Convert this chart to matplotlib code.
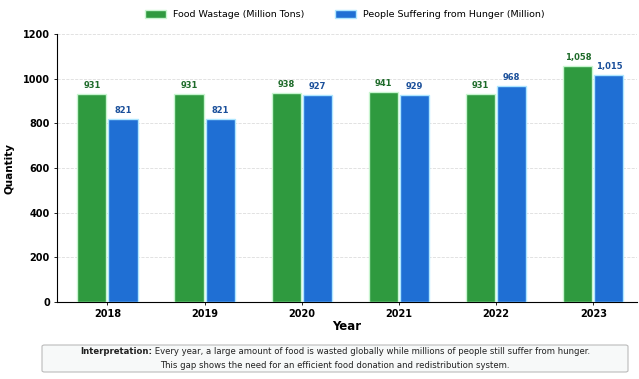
import numpy as np
import matplotlib
matplotlib.use("Agg")
import matplotlib.pyplot as plt
from matplotlib.patches import FancyBboxPatch

# Data
years = ["2018", "2019", "2020", "2021", "2022", "2023"]
food_waste = [931, 931, 938, 941, 931, 1058]
hunger = [821, 821, 927, 929, 968, 1015]
yticks = [0, 200, 400, 600, 800, 1000, 1200]

green = "#2f9a3f"
blue = "#1f6fd4"

fig = plt.figure(figsize=(6.39, 3.79), dpi=100)
ax = fig.add_axes([0.089, 0.203, 0.908, 0.707])

x = np.arange(len(years))
w = 0.3
off = 0.16
b1 = ax.bar(x - off, food_waste, w, color=green, edgecolor="#c8f5d0", linewidth=1.0,
            label="Food Wastage (Million Tons)", zorder=3)
b2 = ax.bar(x + off, hunger, w, color=blue, edgecolor="#aee6ff", linewidth=1.0,
            label="People Suffering from Hunger (Million)", zorder=3)

# value labels above bars
for rect, v in zip(b1, food_waste):
    ax.text(rect.get_x() + rect.get_width() / 2, v + 18, f"{v:,}", ha="center", va="bottom",
            fontsize=6, color="#1e6b2a", fontweight="bold")
for rect, v in zip(b2, hunger):
    ax.text(rect.get_x() + rect.get_width() / 2, v + 18, f"{v:,}", ha="center", va="bottom",
            fontsize=6, color="#1a4f9a", fontweight="bold")

ax.set_xlim(-0.52, 5.45)
ax.set_ylim(0, 1200)
ax.set_xticks(x)
ax.set_xticklabels(years, fontsize=7, fontweight="bold")
ax.set_yticks(yticks)
ax.set_yticklabels([str(t) for t in yticks], fontsize=7, fontweight="bold")
ax.tick_params(axis="both", length=2, width=0.6, pad=3)
ax.set_xlabel("Year", fontsize=8.5, fontweight="bold", labelpad=1)
ax.set_ylabel("Quantity", fontsize=7.5, fontweight="bold", labelpad=6)

ax.grid(axis="y", linestyle="--", color="#dddddd", linewidth=0.6, zorder=0)
for s in ["top", "right"]:
    ax.spines[s].set_visible(False)
ax.spines["left"].set_linewidth(0.8)
ax.spines["bottom"].set_linewidth(0.8)

fig.legend(loc="center", bbox_to_anchor=(0.54, 0.962), ncol=2, frameon=False,
           fontsize=6.8, handlelength=2.2, handleheight=0.9, columnspacing=3.2)

# interpretation box at the bottom
box = FancyBboxPatch((42 / 639, 7 / 379), 586 / 639, 27 / 379, transform=fig.transFigure,
                     boxstyle="round,pad=0,rounding_size=0.004", facecolor="#f7f9f9",
                     edgecolor="#bbbbbb", linewidth=0.8)
fig.patches.append(box)

head = "Interpretation:"
rest = " Every year, a large amount of food is wasted globally while millions of people still suffer from hunger."
line2 = "This gap shows the need for an efficient food donation and redistribution system."
fs = 6.1
cx = 335 / 639
y1 = 27 / 379
y2 = 14 / 379

renderer = fig.canvas.get_renderer()
t_head = fig.text(0, y1, head, fontsize=fs, fontweight="bold", color="#222222", va="center")
t_rest = fig.text(0, y1, rest, fontsize=fs, color="#222222", va="center")
wh = t_head.get_window_extent(renderer).width / fig.bbox.width
wr = t_rest.get_window_extent(renderer).width / fig.bbox.width
x0 = cx - (wh + wr) / 2
t_head.set_x(x0)
t_rest.set_x(x0 + wh)
fig.text(cx, y2, line2, fontsize=fs, color="#222222", ha="center", va="center")

fig.savefig("out.png", dpi=100)
